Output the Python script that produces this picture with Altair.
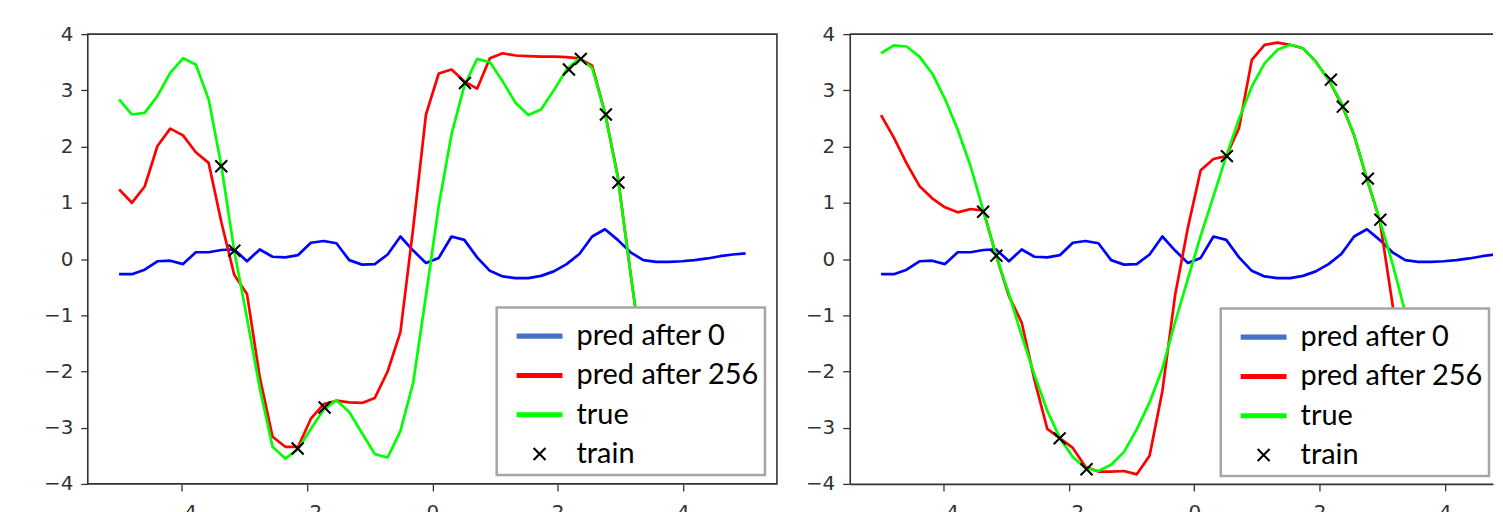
import altair as alt
import pandas as pd

# sampling grid of the curves (50 points between -5 and 5)
X_GRID = [-5.0, -4.796, -4.592, -4.388, -4.184, -3.980, -3.776, -3.571, -3.367, -3.163,
          -2.959, -2.755, -2.551, -2.347, -2.143, -1.939, -1.735, -1.531, -1.327, -1.122,
          -0.918, -0.714, -0.510, -0.306, -0.102, 0.102, 0.306, 0.510, 0.714, 0.918,
          1.122, 1.327, 1.531, 1.735, 1.939, 2.143, 2.347, 2.551, 2.755, 2.959,
          3.163, 3.367, 3.571, 3.776, 3.980, 4.184, 4.388, 4.592, 4.796, 5.0]

# "pred after 0" (same initial model in both panels)
PRED0 = [-0.27, -0.27, -0.19, -0.04, -0.03, -0.09, 0.12, 0.12, 0.16, 0.17,
         -0.04, 0.17, 0.04, 0.03, 0.07, 0.29, 0.32, 0.28, -0.02, -0.10,
         -0.09, 0.08, 0.40, 0.15, -0.07, 0.02, 0.40, 0.34, 0.03, -0.21,
         -0.31, -0.34, -0.34, -0.30, -0.22, -0.09, 0.09, 0.40, 0.53, 0.34,
         0.12, -0.02, -0.05, -0.05, -0.04, -0.02, 0.01, 0.05, 0.08, 0.10]

# left panel
LEFT_PRED256 = [1.24, 1.00, 1.29, 2.01, 2.32, 2.20, 1.90, 1.71, 0.65, -0.28,
                -0.62, -2.10, -3.16, -3.34, -3.34, -2.84, -2.58, -2.52, -2.55, -2.56,
                -2.47, -2.00, -1.30, 0.55, 2.57, 3.30, 3.37, 3.16, 3.03, 3.57,
                3.66, 3.62, 3.61, 3.60, 3.60, 3.59, 3.57, 3.44, 2.60, 1.48,
                -0.25, -1.90]
LEFT_TRUE = [2.84, 2.57, 2.60, 2.90, 3.31, 3.57, 3.46, 2.84, 1.65, 0.15,
             -1.05, -2.30, -3.34, -3.55, -3.38, -3.02, -2.68, -2.51, -2.72, -3.10,
             -3.47, -3.53, -3.06, -2.20, -0.65, 0.95, 2.22, 3.08, 3.56, 3.50,
             3.16, 2.78, 2.56, 2.66, 3.00, 3.37, 3.57, 3.40, 2.60, 1.45,
             -0.25, -1.90]
TRAIN_X = [-3.37, -3.16, -2.15, -1.72, 0.52, 2.18, 2.37, 2.77, 2.97]
LEFT_TRAIN_Y = [1.65, 0.15, -3.37, -2.64, 3.13, 3.37, 3.56, 2.57, 1.36]

# right panel
RIGHT_PRED256 = [2.56, 2.16, 1.70, 1.30, 1.08, 0.92, 0.83, 0.89, 0.86, 0.06,
                 -0.66, -1.13, -2.15, -3.02, -3.19, -3.36, -3.70, -3.78, -3.78, -3.77,
                 -3.83, -3.50, -2.35, -0.64, 0.56, 1.58, 1.78, 1.83, 2.33, 3.54,
                 3.81, 3.85, 3.81, 3.75, 3.51, 3.19, 2.76, 2.20, 1.42, 0.70,
                 -0.80, -2.40]
RIGHT_TRUE = [3.66, 3.80, 3.78, 3.60, 3.30, 2.85, 2.30, 1.65, 0.86, 0.06,
              -0.62, -1.36, -2.06, -2.70, -3.19, -3.52, -3.72, -3.77, -3.66, -3.43,
              -3.03, -2.55, -1.95, -1.12, -0.35, 0.41, 1.12, 1.83, 2.49, 3.07,
              3.48, 3.72, 3.81, 3.75, 3.51, 3.19, 2.78, 2.21, 1.43, 0.70,
              -0.08, -0.95]
RIGHT_TRAIN_Y = [0.84, 0.06, -3.19, -3.74, 1.83, 3.19, 2.71, 1.43, 0.70]

SERIES = ["pred after 0", "pred after 256", "true", "train"]
LINE_COLORS = ["#0000ff", "#ff0000", "#00ff00"]
LEGEND_COLORS = ["#4472c4", "#ff0000", "#00ff00", "#000000"]
SWATCH = "M-1,-0.11L1,-0.11L1,0.11L-1,0.11Z"
CROSS = ("M-0.292,-0.228L0.228,0.292L0.292,0.228L-0.228,-0.292Z"
         "M-0.228,0.292L0.292,-0.228L0.228,-0.292L-0.292,0.228Z")
SHAPES = [SWATCH, SWATCH, SWATCH, CROSS]
X_TICKS = [-4, -2, 0, 2, 4]
Y_TICKS = [-4, -3, -2, -1, 0, 1, 2, 3, 4]
X_MIN, Y_MIN, Y_MAX = -5.5, -4, 4
FRAME = "#333333"


def panel(pred256, true, train_y, x_max, width, y_extent, leg_x, leg_y, open_right):
    rows = []
    for name, ys in [(SERIES[0], PRED0), (SERIES[1], pred256), (SERIES[2], true)]:
        for xv, yv in zip(X_GRID, ys):
            rows.append({"x": xv, "y": yv, "series": name})
    lines_df = pd.DataFrame(rows)
    pts_df = pd.DataFrame({"x": TRAIN_X, "y": train_y, "series": ["train"] * len(TRAIN_X)})

    xs = alt.Scale(domain=[X_MIN, x_max], nice=False, zero=False)
    ys = alt.Scale(domain=[Y_MIN, Y_MAX], nice=False, zero=False)
    x_axis = alt.Axis(values=X_TICKS, title=None, domain=open_right,
                      domainColor=FRAME, domainWidth=1.6)
    y_axis = alt.Axis(values=Y_TICKS, title=None, minExtent=y_extent, domain=open_right,
                      domainColor=FRAME, domainWidth=1.6)
    x_enc = alt.X("x:Q", scale=xs, axis=x_axis)
    y_enc = alt.Y("y:Q", scale=ys, axis=y_axis)
    leg = dict(title=None, orient="none", legendX=leg_x, legendY=leg_y)

    lines = alt.Chart(lines_df).mark_line(strokeWidth=2.7, clip=True, strokeJoin="round").encode(
        x=x_enc, y=y_enc,
        stroke=alt.Stroke("series:N", scale=alt.Scale(domain=SERIES[:3], range=LINE_COLORS), legend=None),
    )
    pts = alt.Chart(pts_df).mark_point(filled=True, opacity=1, size=2116, strokeWidth=0, clip=True).encode(
        x=x_enc, y=y_enc,
        fill=alt.Fill("series:N", scale=alt.Scale(domain=SERIES, range=LEGEND_COLORS),
                      legend=alt.Legend(**leg)),
        shape=alt.Shape("series:N", scale=alt.Scale(domain=SERIES, range=SHAPES),
                        legend=alt.Legend(**leg)),
    )
    layers = [lines, pts]
    if open_right:
        # top edge of the frame; the right edge lies beyond the picture
        edge_df = pd.DataFrame({"x": [X_MIN], "x2": [x_max], "y": [Y_MAX]})
        top = alt.Chart(edge_df).mark_rule(color=FRAME, strokeWidth=1.6).encode(
            x=x_enc, x2="x2:Q", y=y_enc,
        )
        layers.append(top)
        view = alt.ViewBackground(stroke="transparent")
    else:
        view = alt.ViewBackground(stroke=FRAME, strokeWidth=1.6)
    return alt.layer(*layers).properties(width=width, height=451, view=view)


left = panel(LEFT_PRED256, LEFT_TRUE, LEFT_TRAIN_Y, 5.5, 691, 79, 410, 274, False)
right = panel(RIGHT_PRED256, RIGHT_TRUE, RIGHT_TRAIN_Y, 4.768, 645, 71, 372, 275, True)

chart = (
    alt.hconcat(left, right, spacing=0)
    .resolve_scale(fill="independent", shape="independent", stroke="independent")
    .properties(padding={"left": 0, "top": 14.5, "right": 0, "bottom": 0})
    .configure_axis(grid=False, tickColor=FRAME, tickWidth=1.3, tickSize=7,
                    labelFont="DejaVu Sans", labelFontSize=20, labelColor="#333333")
    .configure_axisX(labelPadding=12)
    .configure_axisY(labelPadding=8)
    .configure_legend(padding=5.8, fillColor="white",
                      strokeColor="#a6a6a6", strokeWidth=2.5, cornerRadius=0,
                      labelFont="Lato", labelFontSize=29, labelColor="black", labelLimit=400,
                      symbolSize=2116, symbolStrokeWidth=0, symbolOffset=14.2, labelOffset=14,
                      rowPadding=1.4, symbolOpacity=1)
)

chart.save("out.html", embed_options={"renderer": "svg", "actions": False})
